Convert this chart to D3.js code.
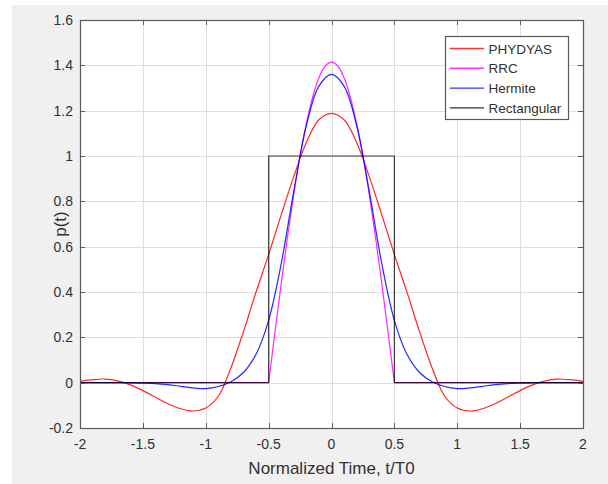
<!DOCTYPE html>
<html>
<head>
<meta charset="utf-8">
<script src="https://cdn.jsdelivr.net/npm/d3@7"></script>
<style>
  html, body { margin: 0; padding: 0; background: #ffffff; }
  text { font-family: 'Liberation Sans', Arial, Helvetica, sans-serif; }
</style>
</head>
<body>
<div class="canvas"></div>
<script>
// sample times (t/T0) shared by PHYDYAS and Hermite
const tGrid = [-2, -1.9, -1.8, -1.7, -1.6, -1.5, -1.4, -1.3, -1.2, -1.1, -1, -0.9, -0.8, -0.7, -0.6, -0.5, -0.4, -0.3, -0.2, -0.1,
    0, 0.1, 0.2, 0.3, 0.4, 0.5, 0.6, 0.7, 0.8, 0.9, 1, 1.1, 1.2, 1.3, 1.4, 1.5, 1.6, 1.7, 1.8, 1.9, 2];
const phydyas = [0.006, 0.013, 0.016, 0.008, -0.010, -0.035, -0.064, -0.093, -0.115, -0.125, -0.112, -0.060, 0.065, 0.225, 0.400, 0.565, 0.740, 0.910, 1.060, 1.160,
    1.188, 1.160, 1.060, 0.910, 0.740, 0.565, 0.400, 0.225, 0.065, -0.060, -0.112, -0.125, -0.115, -0.093, -0.064, -0.035, -0.010, 0.008, 0.016, 0.013, 0.006];
const hermite = [0, 0, 0, 0, -0.001, -0.002, -0.004, -0.009, -0.016, -0.023, -0.026, -0.017, 0.004, 0.045, 0.125, 0.275, 0.525, 0.845, 1.134, 1.308,
    1.360, 1.308, 1.134, 0.845, 0.525, 0.275, 0.125, 0.045, 0.004, -0.017, -0.026, -0.023, -0.016, -0.009, -0.004, -0.002, -0.001, 0, 0, 0, 0];

// RRC pulse samples
const rrcT = [-2, -0.5, -0.45, -0.4, -0.35, -0.3, -0.25, -0.2, -0.15, -0.1, -0.05, 0, 0.05, 0.1, 0.15, 0.2, 0.25, 0.3, 0.35, 0.4, 0.45, 0.5, 2];
const rrc = [0, 0, 0.221, 0.437, 0.642, 0.831, 1.0, 1.144, 1.260, 1.345, 1.397, 1.414, 1.397, 1.345, 1.260, 1.144, 1.0, 0.831, 0.642, 0.437, 0.221, 0, 0];

// rectangular pulse corners
const rectT = [-2, -0.5, -0.5, 0.5, 0.5, 2];
const rect = [0, 0, 1, 1, 0, 0];

const seriesNames = ['PHYDYAS', 'RRC', 'Hermite', 'Rectangular'];
const xTicks = [-2, -1.5, -1, -0.5, 0, 0.5, 1, 1.5, 2];
const yTicks = [-0.2, 0, 0.2, 0.4, 0.6, 0.8, 1, 1.2, 1.4, 1.6];
const xLabel = 'Normalized Time, t/T0';
const yLabel = 'p(t)';

const dimension = { width: 608, height: 484 };
const plot = { left: 80, top: 20, right: 583, bottom: 428 };
const colours = ['#ff0000', '#ff00ff', '#0000ff', '#000000'];

const svg = d3.select('.canvas')
    .append('svg')
    .attr('width', dimension.width)
    .attr('height', dimension.height)
    .style('display', 'block');

// figure background
svg.append('rect')
    .attr('x', 12).attr('y', 5)
    .attr('width', dimension.width - 12)
    .attr('height', dimension.height - 5)
    .attr('fill', '#f0f0f0');

const x = d3.scaleLinear().domain([-2, 2]).range([plot.left, plot.right]);
const y = d3.scaleLinear().domain([-0.2, 1.6]).range([plot.bottom, plot.top]);

svg.append('rect')
    .attr('x', plot.left).attr('y', plot.top)
    .attr('width', plot.right - plot.left)
    .attr('height', plot.bottom - plot.top)
    .attr('fill', '#ffffff');

svg.append('clipPath').attr('id', 'clip')
    .append('rect')
    .attr('x', plot.left).attr('y', plot.top)
    .attr('width', plot.right - plot.left)
    .attr('height', plot.bottom - plot.top);

// grid
const grid = svg.append('g').attr('stroke', '#dedede').attr('stroke-width', 1);
grid.selectAll('.gx').data(xTicks).enter().append('line')
    .attr('x1', d => Math.round(x(d)) + 0.5).attr('x2', d => Math.round(x(d)) + 0.5)
    .attr('y1', plot.top).attr('y2', plot.bottom);
grid.selectAll('.gy').data(yTicks).enter().append('line')
    .attr('y1', d => Math.round(y(d)) + 0.5).attr('y2', d => Math.round(y(d)) + 0.5)
    .attr('x1', plot.left).attr('x2', plot.right);

// curves
const rrcPts = rrcT.map((t, i) => [t, rrc[i]]);
const series = [
    { pts: tGrid.map((t, i) => [t, phydyas[i]]), curve: d3.curveCatmullRom, colour: colours[0] },
    // flat part of RRC, then the smooth pulse
    { pts: rrcPts, curve: d3.curveLinear, colour: colours[1] },
    { pts: rrcPts.filter(d => Math.abs(d[0]) <= 0.5), curve: d3.curveCatmullRom, colour: colours[1], pulse: true },
    { pts: tGrid.map((t, i) => [t, hermite[i]]), curve: d3.curveCatmullRom, colour: colours[2] },
    { pts: rectT.map((t, i) => [t, rect[i]]), curve: d3.curveLinear, colour: colours[3] }
];

const lines = svg.append('g').attr('clip-path', 'url(#clip)');
series.forEach(s => {
    const line = d3.line()
        .x(d => x(d[0]))
        .y(d => y(d[1]))
        .curve(s.curve);
    // linear RRC path only carries the zero tails
    const pts = (s.colour === colours[1] && !s.pulse) ? [] : s.pts;
    const path = (s.colour === colours[1] && !s.pulse)
        ? line(rrcPts.filter(d => Math.abs(d[0]) >= 0.5 && d[0] < 0)) + line(rrcPts.filter(d => Math.abs(d[0]) >= 0.5 && d[0] > 0))
        : line(pts);
    lines.append('path')
        .attr('d', path)
        .attr('fill', 'none')
        .attr('stroke', s.colour)
        .attr('stroke-opacity', s.colour === '#000000' ? 0.75 : 0.85)
        .attr('stroke-width', 1.2);
});

// axes box with inward ticks on all sides
const axisColour = '#5a5a5a';
const tickLen = 5;
const ticks = svg.append('g').attr('stroke', axisColour).attr('stroke-width', 1);
xTicks.forEach(d => {
    const px = Math.round(x(d)) + 0.5;
    ticks.append('line').attr('x1', px).attr('x2', px).attr('y1', plot.bottom).attr('y2', plot.bottom - tickLen);
    ticks.append('line').attr('x1', px).attr('x2', px).attr('y1', plot.top).attr('y2', plot.top + tickLen);
});
yTicks.forEach(d => {
    const py = Math.round(y(d)) + 0.5;
    ticks.append('line').attr('y1', py).attr('y2', py).attr('x1', plot.left).attr('x2', plot.left + tickLen);
    ticks.append('line').attr('y1', py).attr('y2', py).attr('x1', plot.right).attr('x2', plot.right - tickLen);
});
svg.append('rect')
    .attr('x', plot.left + 0.5).attr('y', plot.top + 0.5)
    .attr('width', plot.right - plot.left)
    .attr('height', plot.bottom - plot.top)
    .attr('fill', 'none')
    .attr('stroke', axisColour)
    .attr('stroke-width', 1.2);

// tick labels (plain hyphen minus, as in the original)
const labelColour = '#303030';
svg.append('g').selectAll('text').data(xTicks).enter().append('text')
    .attr('x', d => x(d))
    .attr('y', plot.bottom + 21)
    .attr('text-anchor', 'middle')
    .attr('font-size', 14)
    .attr('fill', labelColour)
    .text(d => String(d));
svg.append('g').selectAll('text').data(yTicks).enter().append('text')
    .attr('x', plot.left - 7)
    .attr('y', d => y(d) + 5)
    .attr('text-anchor', 'end')
    .attr('font-size', 14)
    .attr('fill', labelColour)
    .text(d => String(d));

// axis labels
svg.append('text')
    .attr('x', (plot.left + plot.right) / 2)
    .attr('y', 474)
    .attr('text-anchor', 'middle')
    .attr('font-size', 17)
    .attr('fill', labelColour)
    .text(xLabel);
svg.append('text')
    .attr('transform', `translate(66, ${(plot.top + plot.bottom) / 2}) rotate(-90)`)
    .attr('text-anchor', 'middle')
    .attr('font-size', 17)
    .attr('fill', labelColour)
    .text(yLabel);

// legend
const legendGroup = svg.append('g').attr('transform', 'translate(445, 36)');
legendGroup.append('rect')
    .attr('x', 0.5).attr('y', 0.5)
    .attr('width', 123).attr('height', 83)
    .attr('fill', '#ffffff')
    .attr('stroke', axisColour)
    .attr('stroke-width', 1.2);
const entries = legendGroup.selectAll('.entry').data(seriesNames).enter().append('g')
    .attr('transform', (d, i) => `translate(0, ${12.5 + i * 19.8})`);
entries.append('line')
    .attr('x1', 5).attr('x2', 39)
    .attr('stroke', (d, i) => colours[i])
    .attr('stroke-opacity', 0.8)
    .attr('stroke-width', 1.4);
entries.append('text')
    .attr('x', 43.5)
    .attr('y', 5)
    .attr('font-size', 13.5)
    .attr('fill', labelColour)
    .text(d => d);
</script>
</body>
</html>
